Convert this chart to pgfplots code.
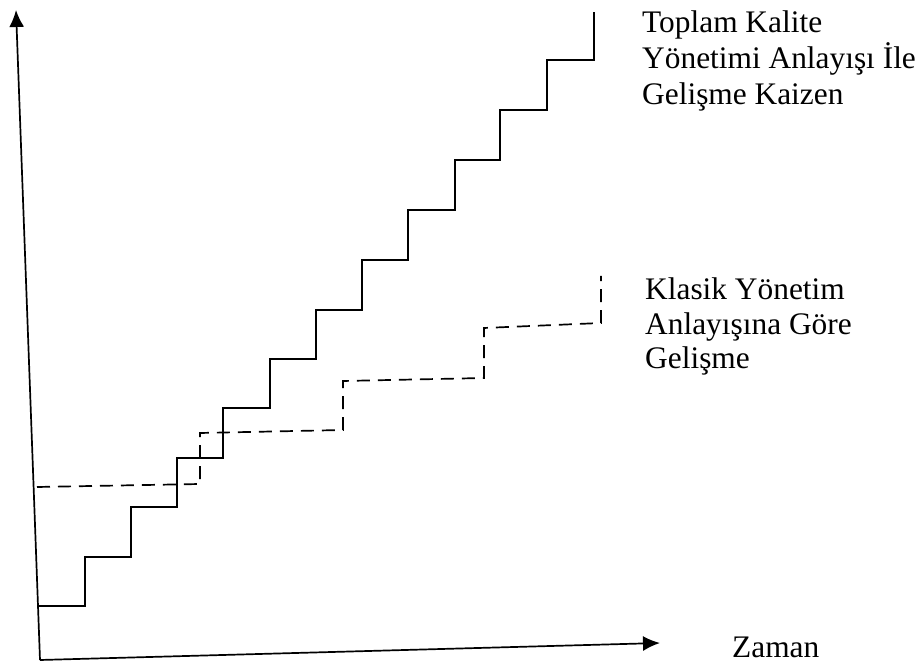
\documentclass[border=0pt]{standalone}
\usepackage{fontspec}
\setmainfont{Liberation Serif}
\usepackage{pgfplots}
\pgfplotsset{compat=1.18}
\usetikzlibrary{arrows.meta}
\tikzset{lbl/.style={font=\fontsize{31.5}{36}\selectfont, inner sep=0pt, anchor=base west}}
\begin{document}
\begin{tikzpicture}
\begin{axis}[
  width=919bp, height=666bp, scale only axis,
  xmin=0, xmax=919, ymin=0, ymax=666,
  hide axis, clip=false,
]
\path[draw=none] (axis cs:0,0) rectangle (axis cs:919,666);
% axes
\addplot[black, line width=1.7bp, -{Latex[length=17bp,width=15bp]}] coordinates {(40,6) (16,656)};
\addplot[black, line width=1.7bp, -{Latex[length=17bp,width=15bp]}] coordinates {(40,6) (660,23)};
% Toplam Kalite staircase
\addplot[black, line width=2bp, line join=miter] coordinates {
(37,60) (85,60) (85,109) (131,109) (131,159) (177,159) (177,208) (223,208)
(223,258) (270,258) (270,307) (316,307) (316,356) (362,356) (362,406)
(408,406) (408,456) (455,456) (455,506) (500,506) (500,556) (547,556)
(547,606) (594,606) (594,654)};
% Klasik staircase (dashed)
\addplot[black, line width=1.7bp, dash pattern=on 13bp off 8bp] coordinates {
(37,179) (200,182) (200,233) (343,236) (343,285) (484,288) (484,338) (601,343) (601,390)};
\node[lbl] at (axis cs:642,633) {Toplam Kalite};
\node[lbl] at (axis cs:642,597) {Yönetimi Anlayışı İle};
\node[lbl] at (axis cs:642,561) {Gelişme Kaizen};
\node[lbl] at (axis cs:645,366) {Klasik Yönetim};
\node[lbl] at (axis cs:645,331) {Anlayışına Göre};
\node[lbl] at (axis cs:645,297) {Gelişme};
\node[lbl] at (axis cs:732,9) {Zaman};
\end{axis}
\end{tikzpicture}
\end{document}
